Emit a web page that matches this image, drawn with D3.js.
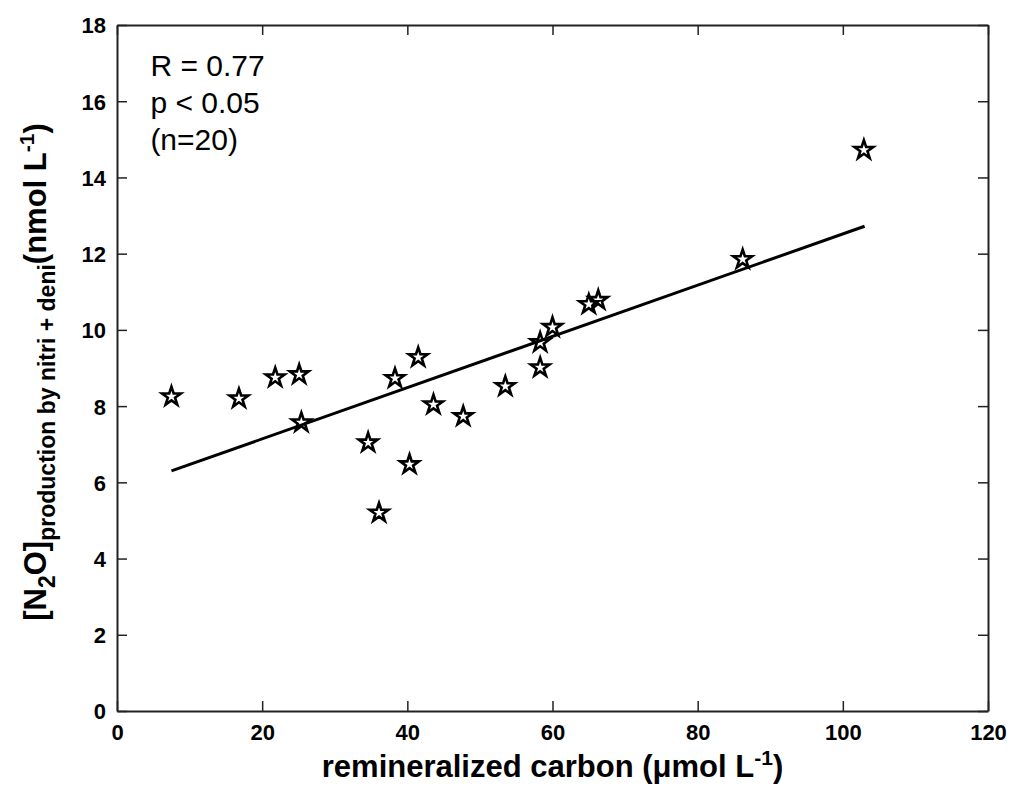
<!DOCTYPE html>
<html>
<head>
<meta charset="utf-8">
<script src="https://cdn.jsdelivr.net/npm/d3@7"></script>
<style>
  body { margin: 0; background: #fff; }
  text { font-family: "Liberation Sans", Arial, Helvetica, sans-serif; }
</style>
</head>
<body>
<div id="chart"></div>
<script>
// remineralized carbon (umol/L) vs N2O production (nmol/L)
var carbon = [7.5, 16.8, 21.8, 25.1, 25.4, 34.6, 36.1, 38.3, 40.3, 41.5,
  43.6, 47.7, 53.5, 58.3, 58.3, 60.0, 65.0, 66.3, 86.2, 102.9];
var n2o = [8.25, 8.2, 8.75, 8.83, 7.57, 7.04, 5.2, 8.73, 6.47, 9.28,
  8.04, 7.73, 8.52, 9.01, 9.67, 10.07, 10.67, 10.78, 11.85, 14.72];

// fitted line end points
var fitX = [7.5, 103.0];
var fitY = [6.3, 12.72];

var xTicks = [0, 20, 40, 60, 80, 100, 120];
var yTicks = [0, 2, 4, 6, 8, 10, 12, 14, 16, 18];
var statLines = ['R = 0.77', 'p < 0.05', '(n=20)'];

var width = 1012, height = 799;
var margin = { left: 117, top: 25, right: 1012 - 988, bottom: 799 - 711 };

var svg = d3.select('#chart').append('svg')
  .attr('width', width)
  .attr('height', height);

var x = d3.scaleLinear().domain([0, 120]).range([margin.left, width - margin.right]);
var y = d3.scaleLinear().domain([0, 18]).range([height - margin.bottom, margin.top]);

var axisColor = '#222';
var tickLen = 10;

// bottom / left axes with labels
var xAxis = svg.append('g')
  .attr('transform', 'translate(0,' + y(0) + ')')
  .call(d3.axisBottom(x).tickValues(xTicks).tickSizeInner(-tickLen).tickSizeOuter(0).tickPadding(13));
var yAxis = svg.append('g')
  .attr('transform', 'translate(' + x(0) + ',0)')
  .call(d3.axisLeft(y).tickValues(yTicks).tickSizeInner(-tickLen).tickSizeOuter(0).tickPadding(11));

// top / right axes, ticks only
var xTop = svg.append('g')
  .attr('transform', 'translate(0,' + y(18) + ')')
  .call(d3.axisTop(x).tickValues(xTicks).tickSizeInner(-tickLen).tickSizeOuter(0).tickFormat(''));
var yRight = svg.append('g')
  .attr('transform', 'translate(' + x(120) + ',0)')
  .call(d3.axisRight(y).tickValues(yTicks).tickSizeInner(-tickLen).tickSizeOuter(0).tickFormat(''));

[xAxis, yAxis, xTop, yRight].forEach(function (g) {
  g.select('.domain').attr('stroke', axisColor).attr('stroke-width', 2);
  g.selectAll('.tick line').attr('stroke', axisColor).attr('stroke-width', 1.5);
  g.selectAll('.tick text')
    .attr('fill', '#000')
    .style('font-size', '22px')
    .style('font-weight', 'bold')
    .style('font-family', '"Liberation Sans", Arial, sans-serif');
});
yAxis.selectAll('.tick text').attr('dy', '0.36em');

// regression line
svg.append('path')
  .datum(d3.zip(fitX, fitY))
  .attr('fill', 'none')
  .attr('stroke', '#000')
  .attr('stroke-width', 3)
  .attr('d', d3.line().x(function (d) { return x(d[0]); }).y(function (d) { return y(d[1]); }));

// star markers
var star = d3.symbol().type(d3.symbolStar).size(110);
svg.append('g')
  .selectAll('path')
  .data(d3.zip(carbon, n2o))
  .join('path')
  .attr('transform', function (d) { return 'translate(' + x(d[0]) + ',' + y(d[1]) + ')'; })
  .attr('d', star)
  .attr('fill', 'none')
  .attr('stroke', '#000')
  .attr('stroke-width', 2.6);

// stats text
svg.append('g')
  .selectAll('text')
  .data(statLines)
  .join('text')
  .attr('x', x(4.6))
  .attr('y', function (d, i) { return y(16.65) + i * 37; })
  .style('font-size', '30px')
  .attr('fill', '#000')
  .text(function (d) { return d; });

// x label
var xl = svg.append('text')
  .attr('x', (x(0) + x(120)) / 2)
  .attr('y', 777)
  .attr('text-anchor', 'middle')
  .style('font-size', '31px')
  .style('font-weight', 'bold');
xl.append('tspan').text('remineralized carbon (\u03bcmol L');
xl.append('tspan').attr('dy', -12).style('font-size', '21px').text('-1');
xl.append('tspan').attr('dy', 12).text(')');

// y label
var yl = svg.append('text')
  .attr('transform', 'translate(46,372) rotate(-90)')
  .attr('text-anchor', 'middle')
  .style('font-size', '31px')
  .style('font-weight', 'bold');
yl.append('tspan').text('[N');
yl.append('tspan').attr('dy', 9).style('font-size', '23px').text('2');
yl.append('tspan').attr('dy', -9).text('O]');
yl.append('tspan').attr('dy', 9).style('font-size', '23px').text('production by nitri + deni');
yl.append('tspan').attr('dy', -9).text('(nmol L');
yl.append('tspan').attr('dy', -12).style('font-size', '21px').text('-1');
yl.append('tspan').attr('dy', 12).text(')');
</script>
</body>
</html>
